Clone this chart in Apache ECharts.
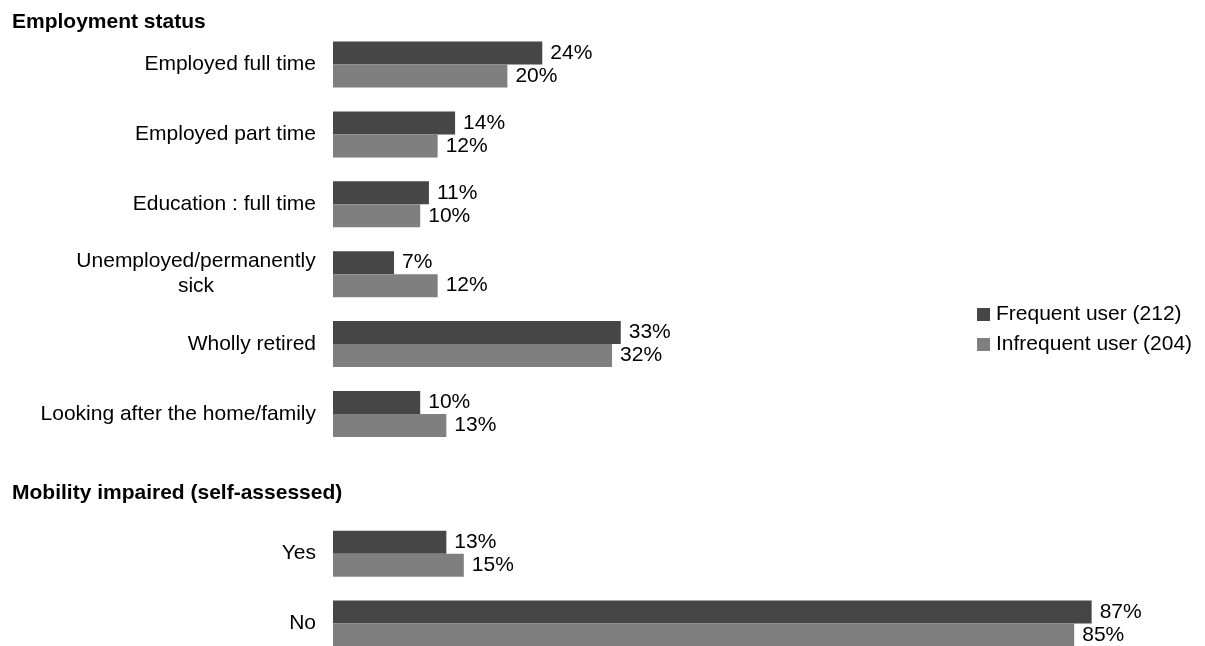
<!DOCTYPE html>
<html>
<head>
<meta charset="utf-8">
<title>Employment status and mobility by user type</title>
<script src="https://cdn.jsdelivr.net/npm/echarts@6/dist/echarts.min.js"></script>
<style>
  html, body { margin: 0; padding: 0; background: #ffffff; }
  #chart { width: 1205px; height: 646px; }
</style>
</head>
<body>
<div id="chart"></div>
<script>
// Section 1: employment status
const employmentCategories = [
  'Employed full time',
  'Employed part time',
  'Education : full time',
  'Unemployed/permanently\nsick',
  'Wholly retired',
  'Looking after the home/family'
];
const employmentFrequent = [24, 14, 11, 7, 33, 10];
const employmentInfrequent = [20, 12, 10, 12, 32, 13];

// Section 2: mobility impaired (self-assessed)
const mobilityCategories = ['Yes', 'No'];
const mobilityFrequent = [13, 87];
const mobilityInfrequent = [15, 85];

const seriesNames = ['Frequent user (212)', 'Infrequent user (204)'];
const sectionTitles = ['Employment status', 'Mobility impaired (self-assessed)'];

// One category axis; an empty slot separates the two sections.
const categories = employmentCategories.concat([''], mobilityCategories);
const frequent = employmentFrequent.concat([null], mobilityFrequent);
const infrequent = employmentInfrequent.concat([null], mobilityInfrequent);

const FONT = "'Liberation Sans', Arial, sans-serif";
const DARK = '#464646';
const LIGHT = '#7f7f7f';

const chart = echarts.init(document.getElementById('chart'), null, { renderer: 'canvas' });

function barSeries(name, data, color) {
  return {
    name: name,
    type: 'bar',
    data: data,
    barWidth: 23,
    barGap: '0%',
    clip: false,
    itemStyle: { color: color },
    label: {
      show: true,
      position: 'right',
      distance: 8,
      color: '#000',
      fontFamily: FONT,
      fontSize: 21,
      formatter: p => (p.value == null ? '' : p.value + '%')
    },
    emphasis: { disabled: true },
    animation: false
  };
}

chart.setOption({
  backgroundColor: '#ffffff',
  textStyle: { fontFamily: FONT },
  // Category rows sit on the tick points (first row at the top edge,
  // last row at the bottom edge), 70px apart.
  grid: { left: 333, top: 64.5, width: 874, height: 559, containLabel: false },
  xAxis: {
    type: 'value',
    min: 0,
    max: 100,
    show: false
  },
  yAxis: {
    type: 'category',
    data: categories,
    inverse: true,
    boundaryGap: false,
    axisLine: { show: false },
    axisTick: { show: false },
    splitLine: { show: false },
    axisLabel: {
      margin: 17,
      color: '#000',
      fontFamily: FONT,
      fontSize: 21,
      lineHeight: 25,
      formatter: v => {
        if (v.indexOf('\n') >= 0) {
          return v.split('\n').map(s => '{c|' + s + '}').join('\n');
        }
        return v;
      },
      rich: {
        c: { width: 240, align: 'center', fontSize: 21, fontFamily: FONT, color: '#000', lineHeight: 25 }
      }
    }
  },
  legend: {
    orient: 'vertical',
    left: 977,
    top: 304,
    padding: 0,
    itemWidth: 13,
    itemHeight: 13,
    itemGap: 9,
    icon: 'rect',
    selectedMode: false,
    data: seriesNames,
    textStyle: { color: '#000', fontFamily: FONT, fontSize: 21, padding: [0, 0, 0, 1] }
  },
  graphic: [
    {
      type: 'text', left: 12, top: 12,
      style: { text: sectionTitles[0], fill: '#000', font: 'bold 21px ' + FONT }
    },
    {
      type: 'text', left: 12, top: 483,
      style: { text: sectionTitles[1], fill: '#000', font: 'bold 21px ' + FONT }
    }
  ],
  series: [
    barSeries(seriesNames[0], frequent, DARK),
    barSeries(seriesNames[1], infrequent, LIGHT)
  ]
});
</script>
</body>
</html>
